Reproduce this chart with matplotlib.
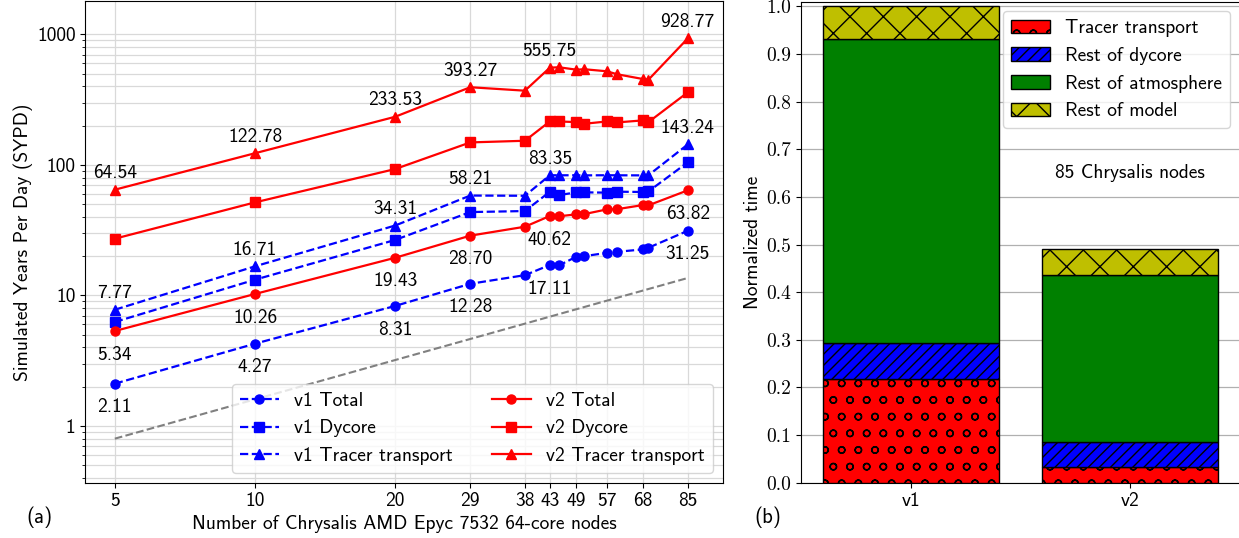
import numpy as np
import matplotlib
matplotlib.use("Agg")
import matplotlib.pyplot as plt
from matplotlib.ticker import FixedLocator, LogLocator, NullFormatter, NullLocator

plt.rcParams["font.family"] = ["cmss10", "DejaVu Sans"]
plt.rcParams["axes.unicode_minus"] = False
plt.rcParams["font.size"] = 14

# Data (a): SYPD vs. number of nodes
nodes = [5, 10, 20, 29, 38, 43, 45, 49, 51, 57, 60, 68, 70, 85]
tick_nodes = [5, 10, 20, 29, 38, 43, 49, 57, 68, 85]
sypd_ticks = [1, 10, 100, 1000]

v1_total = [2.11, 4.27, 8.31, 12.28, 14.3, 17.11, 17.0, 19.8, 20.0, 21.2, 21.6, 22.5, 23.2, 31.25]
v1_dycore = [6.26, 13.2, 26.6, 43.5, 44.3, 62.3, 58.7, 61.6, 61.6, 61.3, 62.3, 62.0, 62.6, 104.5]
v1_tracer = [7.77, 16.71, 34.31, 58.21, 58.0, 83.35, 83.2, 83.3, 83.1, 83.3, 83.2, 83.1, 83.3, 143.24]
v2_total = [5.34, 10.26, 19.43, 28.70, 33.6, 40.62, 40.4, 41.8, 42.0, 45.6, 45.8, 49.2, 49.0, 63.82]
v2_dycore = [27.2, 51.6, 92.9, 148.6, 153.0, 215.4, 215.0, 212.6, 206.5, 215.0, 211.5, 219.0, 212.6, 359.0]
v2_tracer = [64.54, 122.78, 233.53, 393.27, 370.0, 555.75, 559.0, 536.0, 540.0, 521.0, 494.0, 455.0, 449.0, 928.77]

ideal_nodes = [5, 85]
ideal_sypd = [0.8, 13.6]

# punten met een getal erbij
label_idx = [0, 1, 2, 3, 5, 13]

# Data (b): normalized time breakdown at 85 nodes
versions = ["v1", "v2"]
components = ["Tracer transport", "Rest of dycore", "Rest of atmosphere", "Rest of model"]
tracer_frac = [0.217, 0.032]
dycore_frac = [0.076, 0.054]
atm_frac = [0.639, 0.350]
model_frac = [0.068, 0.054]

fig = plt.figure(figsize=(12.39, 5.38), dpi=100)
ax = fig.add_axes([0.0688, 0.1028, 0.5144, 0.8948])
bx = fig.add_axes([0.6465, 0.1028, 0.3543, 0.8940])

# ---- (a) ----
ax.plot(nodes, v1_total, "b--o", lw=1.6, ms=6.5, label="v1 Total")
ax.plot(nodes, v1_dycore, "b--s", lw=1.6, ms=6.5, label="v1 Dycore")
ax.plot(nodes, v1_tracer, "b--^", lw=1.6, ms=6.5, label="v1 Tracer transport")
ax.plot(nodes, v2_total, "r-o", lw=1.6, ms=6.5, label="v2 Total")
ax.plot(nodes, v2_dycore, "r-s", lw=1.6, ms=6.5, label="v2 Dycore")
ax.plot(nodes, v2_tracer, "r-^", lw=1.6, ms=6.5, label="v2 Tracer transport")
ax.plot(ideal_nodes, ideal_sypd, "--", color="grey", lw=1.5)

for series, dy in [(v2_tracer, 12), (v1_tracer, 12), (v2_total, -17), (v1_total, -17)]:
    for i in label_idx:
        ax.annotate(f"{series[i]:.2f}", xy=(nodes[i], series[i]), xytext=(0, dy),
                    textcoords="offset points", ha="center", va="center", fontsize=14)

ax.set_xscale("log")
ax.set_yscale("log")
ax.set_xlim(4.32, 101)
ax.set_ylim(0.368, 1790)
ax.xaxis.set_major_locator(FixedLocator(tick_nodes))
ax.xaxis.set_minor_locator(NullLocator())
ax.set_xticks(tick_nodes, [str(n) for n in tick_nodes])
ax.set_yticks(sypd_ticks, [str(v) for v in sypd_ticks])
ax.yaxis.set_minor_locator(LogLocator(base=10, subs=np.arange(2, 10)))
ax.yaxis.set_minor_formatter(NullFormatter())
ax.grid(True, which="both", color="#d9d9d9", lw=0.9)
ax.set_axisbelow(True)
ax.tick_params(labelsize=14)

ax.set_xlabel("Number of Chrysalis AMD Epyc 7532 64-core nodes", fontsize=14, labelpad=3)
ax.set_ylabel("Simulated Years Per Day (SYPD)", fontsize=14, labelpad=3)
ax.legend(ncol=2, loc="lower right", fontsize=14)

# ---- (b) ----
x = np.arange(len(versions))
bottom = np.zeros(len(versions))
stack = [
    (tracer_frac, "r", "o"),
    (dycore_frac, "b", "///"),
    (atm_frac, "g", None),
    (model_frac, "y", "x"),
]
for (vals, kleur, hatch), naam in zip(stack, components):
    bx.bar(x, vals, width=0.8, bottom=bottom, color=kleur, edgecolor="black",
           hatch=hatch, lw=1, label=naam, zorder=3)
    bottom += np.array(vals)

bx.set_xlim(-0.5, 1.5)
bx.set_ylim(0, 1.01)
yt = np.round(np.arange(0, 1.01, 0.1), 1)
bx.set_yticks(yt, [f"{v:.1f}" for v in yt], fontfamily="cmr10", fontsize=14)
bx.set_xticks(x, versions, fontsize=14)
bx.grid(True, axis="y", color="#b0b0b0", lw=0.9)
bx.set_axisbelow(True)
bx.set_ylabel("Normalized time", fontsize=14, labelpad=3)
bx.text(1.0, 0.65, "85 Chrysalis nodes", ha="center", va="center", fontsize=14)
bx.legend(loc="upper right", fontsize=14)

fig.text(40 / 1239, 1 - 517 / 538, "(a)", ha="center", va="center", fontsize=15)
fig.text(768 / 1239, 1 - 517 / 538, "(b)", ha="center", va="center", fontsize=15)

fig.savefig("out.png", dpi=100)
